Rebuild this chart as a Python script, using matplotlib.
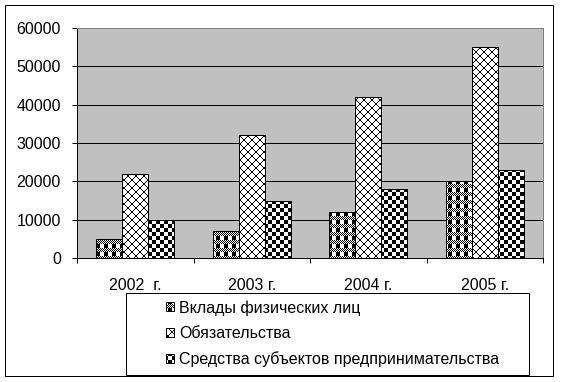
import warnings
import numpy as np
import matplotlib
matplotlib.use('Agg')
import matplotlib.pyplot as plt
import matplotlib.hatch as mhatch
from matplotlib.path import Path
from matplotlib.patches import Rectangle

warnings.filterwarnings('ignore')

years = ['2002  г.', '2003 г.', '2004 г.', '2005 г.']
vklady = [5000, 7000, 12000, 20000]
obyaz = [22000, 32000, 42000, 55000]
sredstva = [10000, 15000, 18000, 23000]
labels = ['Вклады физических лиц', 'Обязательства',
          'Средства субъектов предпринимательства']

DPI = 96  # hatch tile = dpi pixels, so 8px bitmaps repeat exactly 12 times

# 8x8 Excel-like fill bitmaps ('#' = black pixel)
BITMAPS = {
    'k': ['#.#.#.#.', '.#.#.#.#', '#.#.#.#.', '.#.#.#.#',
          '####....', '####....', '####....', '####....'],   # plaid
    'q': ['#......#', '.#....#.', '..#..#..', '...##...',
          '...##...', '..#..#..', '.#....#.', '#......#'],   # diagonal cross
    'w': ['####....', '####....', '####....', '####....',
          '....####', '....####', '....####', '....####'],   # large checker
}


def bitmap_rects(rows):
    rects = []
    n = DPI // 8
    for r in range(DPI):
        line = rows[r % 8] * n
        c = 0
        while c < DPI:
            if line[c] == '#':
                c0 = c
                while c < DPI and line[c] == '#':
                    c += 1
                rects.append((c0 / DPI, 1 - (r + 1) / DPI, c / DPI, 1 - r / DPI))
            else:
                c += 1
    return rects


class BitmapHatch(mhatch.HatchPatternBase):
    def __init__(self, hatch, density):
        self.rects = []
        for ch, rows in BITMAPS.items():
            if ch in hatch:
                self.rects += bitmap_rects(rows)
        self.num_vertices = 5 * len(self.rects)

    def set_vertices_and_codes(self, vertices, codes):
        for i, (x0, y0, x1, y1) in enumerate(self.rects):
            vertices[5 * i:5 * i + 5] = [(x0, y0), (x1, y0), (x1, y1), (x0, y1), (x0, y0)]
            codes[5 * i:5 * i + 5] = [Path.MOVETO, Path.LINETO, Path.LINETO,
                                      Path.LINETO, Path.CLOSEPOLY]


mhatch._hatch_types.append(BitmapHatch)

plt.rcParams['font.family'] = ['Liberation Sans', 'DejaVu Sans']
plt.rcParams['font.size'] = 12
plt.rcParams['hatch.linewidth'] = 0.01
plt.rcParams['hatch.color'] = 'black'

W, H = 563, 382
fig = plt.figure(figsize=(W / DPI, H / DPI), dpi=DPI)


def fx(px):
    return px / W


def fy(py):
    return 1 - py / H


ax = fig.add_axes([fx(77), fy(258), fx(543) - fx(77), fy(28) - fy(258)])
ax.set_facecolor('#c0c0c0')

x = np.arange(len(years))
w = 0.223
series = [vklady, obyaz, sredstva]
hatches = ['k', 'q', 'w']
for i, (vals, hc, lab) in enumerate(zip(series, hatches, labels)):
    ax.bar(x + (i - 1) * w, vals, w, color='white', edgecolor='black',
           linewidth=0.75, hatch=hc, label=lab, zorder=3)

ax.set_xlim(-0.5, len(years) - 0.5)
ax.set_ylim(0, 60000)
ax.set_yticks(np.arange(0, 60001, 10000))
ax.set_xticks(x)
ax.set_xticklabels(years)
ax.set_xticks(np.arange(-0.5, len(years), 1), minor=True)
ax.tick_params(axis='x', which='major', length=0, pad=15)
ax.tick_params(axis='x', which='minor', length=4, width=0.75, direction='out')
ax.tick_params(axis='y', length=4, width=0.75, direction='out', pad=8)

ax.set_axisbelow(True)
ax.yaxis.grid(True, color='black', linewidth=0.75)
for side in ['left', 'bottom']:
    ax.spines[side].set_color('black')
    ax.spines[side].set_linewidth(0.75)
for side in ['top', 'right']:
    ax.spines[side].set_color('#808080')
    ax.spines[side].set_linewidth(0.75)

# outer chart border and legend box
fig.patches.append(Rectangle((fx(5), fy(376)), fx(553) - fx(5), fy(5) - fy(376),
                             transform=fig.transFigure, fill=False,
                             edgecolor='black', linewidth=0.75))
fig.patches.append(Rectangle((fx(126), fy(375)), fx(529) - fx(126), fy(293) - fy(375),
                             transform=fig.transFigure, facecolor='white',
                             edgecolor='black', linewidth=0.75, zorder=1))

fig.legend(loc='upper left', bbox_to_anchor=(fx(166), fy(300)),
           frameon=False, borderpad=0, handlelength=0.5, handleheight=0.5,
           handletextpad=0.3, labelspacing=0.66, borderaxespad=0)

fig.savefig('out.png', dpi=DPI)
